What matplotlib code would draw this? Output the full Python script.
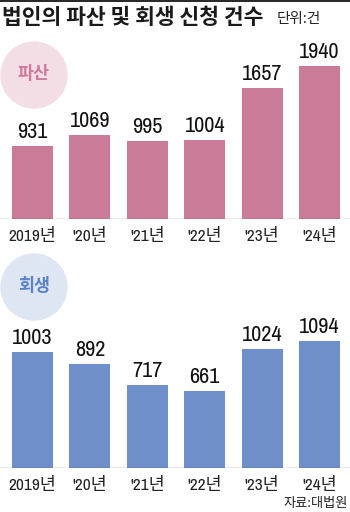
import matplotlib
matplotlib.use("Agg")
import matplotlib.pyplot as plt
from matplotlib.patches import Ellipse
from matplotlib.lines import Line2D

years = ["2019년", "'20년", "'21년", "'22년", "'23년", "'24년"]
bankruptcy = [931, 1069, 995, 1004, 1657, 1940]
rehab = [1003, 892, 717, 661, 1024, 1094]

title = "법인의 파산 및 회생 신청 건수"
unit = "단위:건"
source = "자료:대법원"

W, H = 350, 512
FAM = ['Archivo Narrow', 'Noto Sans CJK KR', 'DejaVu Sans']
KFAM = ['Noto Sans CJK KR', 'DejaVu Sans']
plt.rcParams['font.family'] = FAM

fig = plt.figure(figsize=(W / 100, H / 100), dpi=100)
fig.patch.set_facecolor('white')
PT = 72 / 100  # points per pixel


def px_axes(x0, ytop, x1, ybot):
    return fig.add_axes([x0 / W, 1 - ybot / H, (x1 - x0) / W, (ybot - ytop) / H])

# top rule
fig.add_artist(Line2D([0, 1], [1 - 0.8 / H, 1 - 0.8 / H], transform=fig.transFigure,
                      color='black', lw=1.2))

fig.text(2 / W, 1 - 18 / H, title, fontsize=15.5, fontweight='bold', family=KFAM,
         va='center', ha='left', color='#1a1a1a')
fig.text(277 / W, 1 - 19 / H, unit, fontsize=10.5, family=KFAM, va='center', ha='left',
         color='#222222')

spacing = 57.4
c0 = 32.5
xlim = (-c0 / spacing, (W - c0) / spacing)
bw = 41 / spacing


def panel(vals, ytop, ybase, per_px, color, circ_color, label, label_color, circ_y):
    ax = px_axes(0, ytop, W, ybase)
    ax.set_xlim(*xlim)
    ax.set_ylim(0, (ybase - ytop) * per_px)
    xs = list(range(len(vals)))
    ax.bar(xs, vals, width=bw, color=color, zorder=2)
    for x, v in zip(xs, vals):
        ax.annotate(f"{v}", (x, v), xytext=(0, 8 * PT), textcoords='offset points',
                    ha='center', va='baseline', fontsize=16, color='#111111')
    ax.axis('off')
    ax.axhline(0, color='#555555', lw=0.9, zorder=3)
    fig.add_artist(Ellipse((34 / W, 1 - circ_y / H), 66 / W, 66 / H,
                           transform=fig.transFigure, color=circ_color, zorder=0))
    fig.text(34 / W, 1 - (circ_y - 1) / H, label, fontsize=12.5, fontweight='bold',
             family=KFAM, color=label_color, ha='center', va='center')
    for x, t in zip(xs, years):
        ax.annotate(t, (x, 0), xytext=(0, -17 * PT), textcoords='offset points',
                    ha='center', va='center', fontsize=12.5, color='#222222')
    return ax

panel(bankruptcy, 40, 219, 1940 / 153, '#C97B98', '#F4DEE6', '파산', '#CF7A9A', 75)
panel(rehab, 250, 468, 1094 / 127, '#6E8FC9', '#DEE5F3', '회생', '#5A82C6', 287)

fig.text(348 / W, 1 - 503 / H, source, fontsize=9.5, family=KFAM, ha='right', va='center',
         color='#222222')

fig.savefig('out.png', dpi=100, facecolor='white')
